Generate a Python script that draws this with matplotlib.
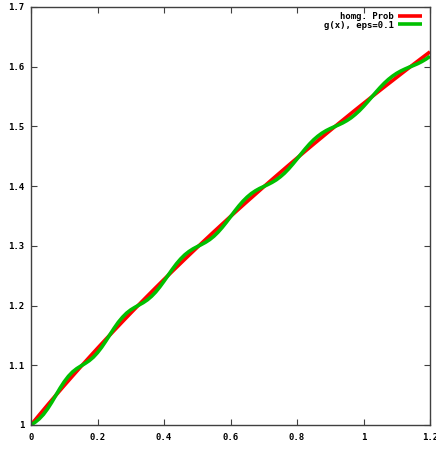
import numpy as np
import matplotlib
matplotlib.use("Agg")
import matplotlib.pyplot as plt

# Homogenized solution, sampled every 0.025 on [0, 1.2]
homog_x = np.linspace(0.0, 1.2, 49)
homog_y = [1.0000, 1.0169, 1.0336, 1.0500, 1.0662, 1.0821, 1.0978, 1.1132, 1.1285,
           1.1435, 1.1583, 1.1730, 1.1875, 1.2018, 1.2159, 1.2299, 1.2437, 1.2574,
           1.2709, 1.2843, 1.2975, 1.3106, 1.3236, 1.3364, 1.3492, 1.3618, 1.3743,
           1.3866, 1.3989, 1.4111, 1.4231, 1.4351, 1.4469, 1.4587, 1.4704, 1.4819,
           1.4934, 1.5048, 1.5161, 1.5274, 1.5385, 1.5496, 1.5606, 1.5715, 1.5823,
           1.5931, 1.6038, 1.6144, 1.6249]

# Oscillating solution g(x) for eps = 0.1, sampled every 0.0125
g_x = np.linspace(0.0, 1.2, 97)
g_y = [1.0000, 1.0047, 1.0104, 1.0178, 1.0272, 1.0381, 1.0500, 1.0618, 1.0725, 1.0816,
       1.0889, 1.0944, 1.0988, 1.1030, 1.1077, 1.1136, 1.1212, 1.1302, 1.1405, 1.1514,
       1.1621, 1.1720, 1.1804, 1.1874, 1.1928, 1.1971, 1.2010, 1.2049, 1.2096, 1.2155,
       1.2227, 1.2313, 1.2408, 1.2508, 1.2607, 1.2700, 1.2781, 1.2850, 1.2905, 1.2950,
       1.2987, 1.3022, 1.3060, 1.3105, 1.3161, 1.3229, 1.3308, 1.3395, 1.3487, 1.3580,
       1.3668, 1.3748, 1.3817, 1.3875, 1.3922, 1.3961, 1.3994, 1.4027, 1.4063, 1.4105,
       1.4157, 1.4218, 1.4290, 1.4370, 1.4455, 1.4541, 1.4626, 1.4705, 1.4776, 1.4836,
       1.4887, 1.4929, 1.4964, 1.4995, 1.5026, 1.5059, 1.5098, 1.5144, 1.5200, 1.5263,
       1.5335, 1.5413, 1.5494, 1.5574, 1.5652, 1.5724, 1.5788, 1.5843, 1.5890, 1.5929,
       1.5962, 1.5992, 1.6020, 1.6050, 1.6085, 1.6126, 1.6174]

x_ticks = [0.0, 0.2, 0.4, 0.6, 0.8, 1.0, 1.2]
x_tick_labels = ["0", "0.2", "0.4", "0.6", "0.8", "1", "1.2"]
y_ticks = [1.0, 1.1, 1.2, 1.3, 1.4, 1.5, 1.6, 1.7]
y_tick_labels = ["1", "1.1", "1.2", "1.3", "1.4", "1.5", "1.6", "1.7"]

series_labels = ["homg. Prob", "g(x), eps=0.1"]
series_colors = ["#ff0000", "#00c000"]

font = {"family": "DejaVu Sans Mono", "size": 6.5, "weight": "bold"}

fig = plt.figure(figsize=(4.36, 4.49), dpi=100)
ax = fig.add_axes([31 / 436, 24 / 449, 399 / 436, 418 / 449])

ax.plot(homog_x, homog_y, color=series_colors[0], lw=2.6, label=series_labels[0],
        solid_capstyle="butt")
ax.plot(g_x, g_y, color=series_colors[1], lw=2.6, label=series_labels[1],
        solid_capstyle="butt")

ax.set_xlim(0.0, 1.2)
ax.set_ylim(1.0, 1.7)
ax.set_xticks(x_ticks)
ax.set_xticklabels(x_tick_labels, fontdict=font)
ax.set_yticks(y_ticks)
ax.set_yticklabels(y_tick_labels, fontdict=font)
ax.tick_params(direction="in", length=4, width=0.8, color="#404040",
               top=True, right=True, pad=5, labelcolor="black")
ax.tick_params(axis="x", pad=6)
for s in ax.spines.values():
    s.set_color("#404040")
    s.set_linewidth(1.0)

leg = ax.legend(loc="upper right", bbox_to_anchor=(1.0 - 8 / 399, 1.0 - 5 / 418),
                markerfirst=False, frameon=False,
                prop={"family": "DejaVu Sans Mono", "size": 6.5, "weight": "bold"},
                handlelength=2.7, handletextpad=0.45, labelspacing=-0.05,
                borderaxespad=0.0, borderpad=0.0)
for t in leg.get_texts():
    t.set_ha("right")

fig.savefig("out.png", dpi=100)
